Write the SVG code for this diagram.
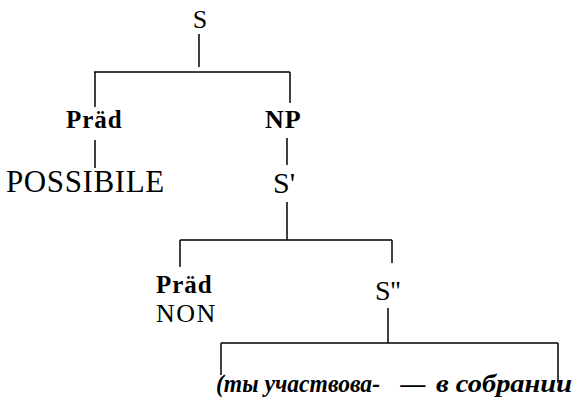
<svg xmlns="http://www.w3.org/2000/svg" width="580" height="403" viewBox="0 0 580 403">
<rect width="580" height="403" fill="#fff"/>
<g id="n-S"><text x="200" y="28" font-family="Liberation Serif" font-size="26" text-anchor="middle">S</text></g>
<g id="n-Praed1"><text x="66" y="128" font-family="Liberation Serif" font-weight="bold" font-size="25" letter-spacing="1">Präd</text></g>
<g id="n-NP"><text x="265" y="128" font-family="Liberation Serif" font-weight="bold" font-size="26" letter-spacing="1">NP</text></g>
<g id="n-POSSIBILE"><text x="6" y="192" font-family="Liberation Serif" font-size="31" letter-spacing="0.6">POSSIBILE</text></g>
<g id="n-S1"><text x="273" y="193" font-family="Liberation Serif" font-size="30">S'</text></g>
<g id="n-Praed2"><text x="156" y="293" font-family="Liberation Serif" font-weight="bold" font-size="25" letter-spacing="1">Präd</text></g>
<g id="n-NON"><text x="156" y="322" font-family="Liberation Serif" font-size="26" letter-spacing="1.5">NON</text></g>
<g id="n-S2"><text x="375" y="300" font-family="Liberation Serif" font-size="28">S''</text></g>
<g id="n-leaves">
<text x="216" y="392" font-family="Liberation Serif" font-style="italic" font-weight="bold" font-size="25" textLength="164" lengthAdjust="spacingAndGlyphs">(ты участвова-</text>
<text x="413" y="392" font-family="Liberation Serif" font-style="italic" font-weight="bold" font-size="25" text-anchor="middle">—</text>
<text x="436" y="392" font-family="Liberation Serif" font-style="italic" font-weight="bold" font-size="25" textLength="136" lengthAdjust="spacingAndGlyphs">в собрании</text>
</g>
<g id="connectors" stroke="#000" stroke-width="1.5">
<line x1="199" y1="34" x2="199" y2="67"/>
<line x1="94" y1="72" x2="290" y2="72"/>
<line x1="95" y1="72" x2="95" y2="107"/>
<line x1="290" y1="72" x2="290" y2="103"/>
<line x1="95" y1="140" x2="95" y2="168"/>
<line x1="287" y1="138" x2="287" y2="165"/>
<line x1="287" y1="202" x2="287" y2="240"/>
<line x1="180" y1="240" x2="392" y2="240"/>
<line x1="180" y1="240" x2="180" y2="267"/>
<line x1="392" y1="240" x2="392" y2="263"/>
<line x1="388" y1="308" x2="388" y2="343"/>
<line x1="221" y1="343" x2="558" y2="343"/>
<line x1="221" y1="343" x2="221" y2="375"/>
<line x1="558" y1="343" x2="558" y2="383"/>
</g>
</svg>
